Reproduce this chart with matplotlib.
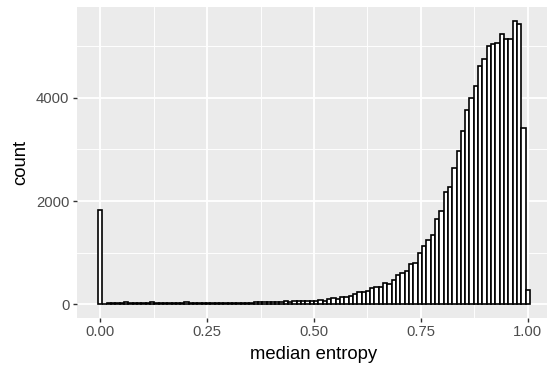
import numpy as np
import matplotlib
matplotlib.use("Agg")
import matplotlib.pyplot as plt

# histogram counts, 100 bins centred on 0 .. 1 (bin index 0 .. 99)
counts = [
    1825, 12, 15, 20, 22, 28, 35, 28, 25, 25,
    28, 30, 35, 28, 25, 22, 20, 22, 25, 30,
    35, 25, 22, 20, 18, 18, 18, 20, 20, 22,
    22, 25, 28, 30, 28, 30, 35, 35, 38, 45,
    42, 50, 45, 55, 50, 58, 55, 60, 58, 62,
    65, 78, 65, 103, 110, 103, 130, 130, 155, 188,
    240, 240, 252, 317, 324, 336, 410, 394, 466, 563,
    608, 641, 777, 790, 984, 1126, 1243, 1333, 1650, 1812,
    2169, 2278, 2647, 2977, 3365, 3767, 3994, 4227, 4621, 4763,
    5010, 5042, 5062, 5237, 5140, 5140, 5489, 5437, 3424, 272,
]
x_min, x_max = 0.0, 1.0
x_ticks = [0.00, 0.25, 0.50, 0.75, 1.00]
x_tick_labels = ["0.00", "0.25", "0.50", "0.75", "1.00"]
y_ticks = [0, 2000, 4000]
y_tick_labels = ["0", "2000", "4000"]
y_minor = [1000, 3000, 5000]
x_minor = [0.125, 0.375, 0.625, 0.875]
x_label = "median entropy"
y_label = "count"

plt.rcParams['font.family'] = ['Liberation Sans', 'DejaVu Sans']

n = len(counts)
binwidth = (x_max - x_min) / (n - 1)
centers = x_min + np.arange(n) * binwidth

W, H = 547, 371
fig = plt.figure(figsize=(W / 100, H / 100), dpi=100)
left_px, right_px, top_px, bottom_px = 76.5, 551.5, 7.0, 318.3
ax = fig.add_axes([left_px / W, (H - bottom_px) / H,
                   (right_px - left_px) / W, (bottom_px - top_px) / H])
ax.set_facecolor('#EBEBEB')

ax.bar(centers, counts, width=binwidth, color='white', edgecolor='black',
       linewidth=1.2, zorder=3)

span = (x_max + binwidth / 2) - (x_min - binwidth / 2)
ax.set_xlim(x_min - binwidth / 2 - 0.05 * span, x_max + binwidth / 2 + 0.05 * span)
ymax = max(counts)
ax.set_ylim(-0.05 * ymax, 1.05 * ymax)

ax.set_xticks(x_ticks)
ax.set_xticklabels(x_tick_labels)
ax.set_yticks(y_ticks)
ax.set_yticklabels(y_tick_labels)
ax.set_xticks(x_minor, minor=True)
ax.set_yticks(y_minor, minor=True)

ax.grid(True, which='major', color='white', linewidth=1.3, zorder=0)
ax.grid(True, which='minor', color='white', linewidth=0.65, zorder=0)
ax.set_axisbelow(True)
for s in ax.spines.values():
    s.set_visible(False)

ax.tick_params(which='major', length=2.6, width=1.0, color='#333333',
               labelcolor='#4D4D4D', labelsize=10.7, pad=2.5)
ax.tick_params(which='minor', length=0)

ax.set_xlabel(x_label, fontsize=13.3, color='black', labelpad=5)
ax.set_ylabel(y_label, fontsize=13.3, color='black', labelpad=5)

fig.savefig('out.png', dpi=100)
